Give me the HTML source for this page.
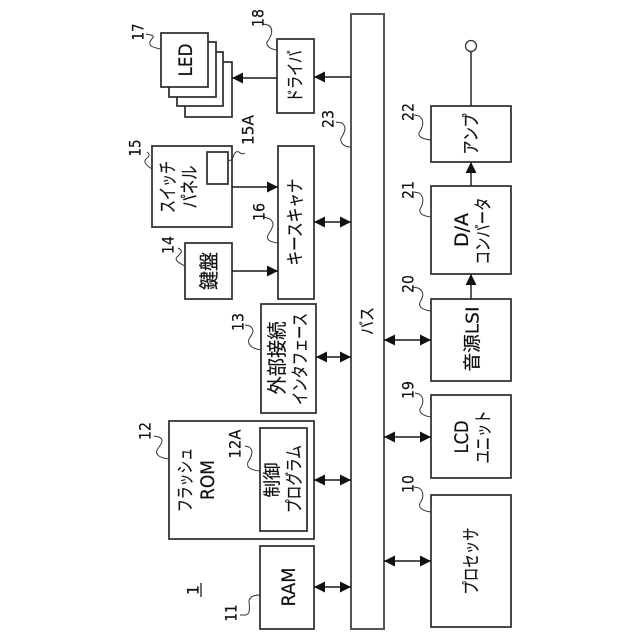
<!DOCTYPE html>
<html><head><meta charset="utf-8"><style>
html,body{margin:0;padding:0;background:#fff}
svg{display:block}
text{font-family:"DejaVu Sans","Noto Sans CJK JP",sans-serif;fill:#111;stroke:#111;stroke-width:.2;text-anchor:middle;dominant-baseline:central}
.n{font-size:16px}
rect{fill:#fff;stroke:#2a2a2a;stroke-width:1.7}
.l{fill:none;stroke:#1a1a1a;stroke-width:1.4}
.w{fill:none;stroke:#333;stroke-width:1}
.h{fill:#111;stroke:none}
</style></head><body>
<svg width="640" height="640" viewBox="0 0 640 640" xmlns="http://www.w3.org/2000/svg">
<rect x="0" y="0" width="640" height="640" style="fill:#fff;stroke:none"/>
<rect x="351" y="14" width="33" height="615" style="stroke:#555;stroke-width:2"/>
<rect x="185" y="62" width="47" height="55"/>
<rect x="177" y="52" width="46" height="54"/>
<rect x="169" y="42" width="47" height="55"/>
<rect x="161" y="33" width="47" height="54"/>
<rect x="277" y="39" width="37" height="74"/>
<rect x="152" y="146" width="80" height="81"/>
<rect x="207" y="152" width="21" height="32"/>
<rect x="278" y="146" width="36" height="153"/>
<rect x="185" y="243" width="47" height="56"/>
<rect x="261" y="304" width="55" height="109"/>
<rect x="169" y="421" width="145" height="118"/>
<rect x="260" y="428" width="47" height="103"/>
<rect x="260" y="546" width="54" height="83"/>
<rect x="431" y="106" width="80" height="56"/>
<rect x="431" y="186" width="80" height="88"/>
<rect x="431" y="299" width="80" height="82"/>
<rect x="431" y="395" width="80" height="83"/>
<rect x="431" y="495" width="80" height="132"/>
<circle cx="471" cy="46" r="5.5" fill="#fff" stroke="#333" stroke-width="1.3"/>
<path class="l" d="M471 52V106M471 162V186M471 274V299M277 78H232M351 77H314M232 187H278M232 271H278M314 222H351M316 357H351M314 480H351M314 587H351M384 340H431M384 437H431M384 561H431"/>
<path class="h" d="M232 78l11-5.500v11zM314 77l11-5.500v11zM278 187l-11-5.500v11zM278 271l-11-5.500v11zM471 162l-5.500 11h11zM471 274l-5.500 11h11z
M314 222l11-5.500v11zM351 222l-11-5.500v11zM316 357l11-5.500v11zM351 357l-11-5.500v11zM314 480l11-5.500v11zM351 480l-11-5.500v11zM314 587l11-5.500v11zM351 587l-11-5.500v11z
M384 340l11-5.500v11zM431 340l-11-5.500v11zM384 437l11-5.500v11zM431 437l-11-5.500v11zM384 561l11-5.500v11zM431 561l-11-5.500v11z"/>
<path class="w" d="M160 49C152 47 149 46 150 42C152 37 156 37 151 35L146 34"/>
<path class="w" d="M277 50C270 49 266 46 267 42C272 36 274 28 268 25L263 24"/>
<path class="w" d="M351 147C344 147 340 143 341 138C345 132 347 127 342 123L336 122"/>
<path class="w" d="M152 169C146 165 143 162 146 159C150 156 150 154 147 152"/>
<path class="w" d="M228 160C234 162 232 155 236 152C240 150 240 156 245 153"/>
<path class="w" d="M278 243C270 242 266 240 268 235C272 228 276 224 270 219L264 217"/>
<path class="w" d="M185 266C179 263 174 260 177 257C181 253 184 251 178 248"/>
<path class="w" d="M261 350C253 349 247 345 249 339C253 333 255 330 250 326L245 325"/>
<path class="w" d="M169 459C160 458 155 455 157 450C161 444 165 440 159 437L154 436"/>
<path class="w" d="M260 471C251 470 246 468 248 462C252 456 254 450 249 447L245 446"/>
<path class="w" d="M260 595C253 595 249 597 249 602C250 610 250 616 243 615L240 615"/>
<path class="w" d="M431 140C423 139 418 137 419 133C423 127 425 120 419 116L414 115"/>
<path class="w" d="M431 217C423 216 419 214 420 209C424 203 424 196 419 193L414 192"/>
<path class="w" d="M431 311C423 310 418 307 420 302C424 296 424 291 418 288L413 287"/>
<path class="w" d="M431 417C424 416 419 413 420 409C424 403 424 397 419 394L415 393"/>
<path class="w" d="M431 512C423 511 418 508 420 503C424 498 424 491 419 488L414 487"/>
<path d="M201 583V597" stroke="#222" stroke-width="1.3" fill="none"/>

<g class="n">
<text transform="translate(138,32) rotate(-90)" textLength="17" lengthAdjust="spacingAndGlyphs">17</text>
<text transform="translate(258,18) rotate(-90)" textLength="18" lengthAdjust="spacingAndGlyphs">18</text>
<text transform="translate(328,119) rotate(-90)" textLength="18" lengthAdjust="spacingAndGlyphs">23</text>
<text transform="translate(135,148) rotate(-90)" textLength="17" lengthAdjust="spacingAndGlyphs">15</text>
<text transform="translate(248,130) rotate(-90)" textLength="30" lengthAdjust="spacingAndGlyphs">15A</text>
<text transform="translate(259,212) rotate(-90)" textLength="18" lengthAdjust="spacingAndGlyphs">16</text>
<text transform="translate(168,245) rotate(-90)" textLength="18" lengthAdjust="spacingAndGlyphs">14</text>
<text transform="translate(238,322) rotate(-90)" textLength="18" lengthAdjust="spacingAndGlyphs">13</text>
<text transform="translate(145,431) rotate(-90)" textLength="18" lengthAdjust="spacingAndGlyphs">12</text>
<text transform="translate(235,444) rotate(-90)" textLength="29" lengthAdjust="spacingAndGlyphs">12A</text>
<text transform="translate(231,613) rotate(-90)" textLength="17" lengthAdjust="spacingAndGlyphs">11</text>
<text transform="translate(193,590) rotate(-90)">1</text>
<text transform="translate(408,112) rotate(-90)" textLength="18" lengthAdjust="spacingAndGlyphs">22</text>
<text transform="translate(408,190) rotate(-90)" textLength="18" lengthAdjust="spacingAndGlyphs">21</text>
<text transform="translate(408,284) rotate(-90)" textLength="18" lengthAdjust="spacingAndGlyphs">20</text>
<text transform="translate(408,390) rotate(-90)" textLength="18" lengthAdjust="spacingAndGlyphs">19</text>
<text transform="translate(408,484) rotate(-90)" textLength="18" lengthAdjust="spacingAndGlyphs">10</text>
</g>

<text transform="translate(186,60) rotate(-90)" font-size="19" textLength="33" lengthAdjust="spacingAndGlyphs">LED</text>
<text transform="translate(296,76) rotate(-90)" font-size="18" textLength="52" lengthAdjust="spacingAndGlyphs">ドライバ</text>
<text transform="translate(168,187) rotate(-90)" font-size="19" textLength="52" lengthAdjust="spacingAndGlyphs">スイッチ</text>
<text transform="translate(190,187) rotate(-90)" font-size="19" textLength="43" lengthAdjust="spacingAndGlyphs">パネル</text>
<text transform="translate(296,222) rotate(-90)" font-size="18" textLength="87" lengthAdjust="spacingAndGlyphs">キースキャナ</text>
<text transform="translate(209,271) rotate(-90)" font-size="20" textLength="38" lengthAdjust="spacingAndGlyphs">鍵盤</text>
<text transform="translate(277,358) rotate(-90)" font-size="20" textLength="73" lengthAdjust="spacingAndGlyphs">外部接続</text>
<text transform="translate(301,359) rotate(-90)" font-size="18" textLength="92" lengthAdjust="spacingAndGlyphs">インタフェース</text>
<text transform="translate(186,480) rotate(-90)" font-size="18" textLength="64" lengthAdjust="spacingAndGlyphs">フラッシュ</text>
<text transform="translate(208,480) rotate(-90)" font-size="19" textLength="40" lengthAdjust="spacingAndGlyphs">ROM</text>
<text transform="translate(273,480) rotate(-90)" font-size="18" textLength="35" lengthAdjust="spacingAndGlyphs">制御</text>
<text transform="translate(295,479) rotate(-90)" font-size="18" textLength="68" lengthAdjust="spacingAndGlyphs">プログラム</text>
<text transform="translate(289,587) rotate(-90)" font-size="19" textLength="39" lengthAdjust="spacingAndGlyphs">RAM</text>
<text transform="translate(368,321) rotate(-90)" font-size="17" textLength="28" lengthAdjust="spacingAndGlyphs">バス</text>
<text transform="translate(472,134) rotate(-90)" font-size="18" textLength="41" lengthAdjust="spacingAndGlyphs">アンプ</text>
<text transform="translate(462,230) rotate(-90)" font-size="19" textLength="34" lengthAdjust="spacingAndGlyphs">D/A</text>
<text transform="translate(484,231) rotate(-90)" font-size="18" textLength="67" lengthAdjust="spacingAndGlyphs">コンバータ</text>
<text transform="translate(473,339) rotate(-90)" font-size="18" textLength="65" lengthAdjust="spacingAndGlyphs">音源LSI</text>
<text transform="translate(462,437) rotate(-90)" font-size="19" textLength="33" lengthAdjust="spacingAndGlyphs">LCD</text>
<text transform="translate(484,437) rotate(-90)" font-size="18" textLength="53" lengthAdjust="spacingAndGlyphs">ユニット</text>
<text transform="translate(472,561) rotate(-90)" font-size="18" textLength="67" lengthAdjust="spacingAndGlyphs">プロセッサ</text>
</svg>
</body></html>
